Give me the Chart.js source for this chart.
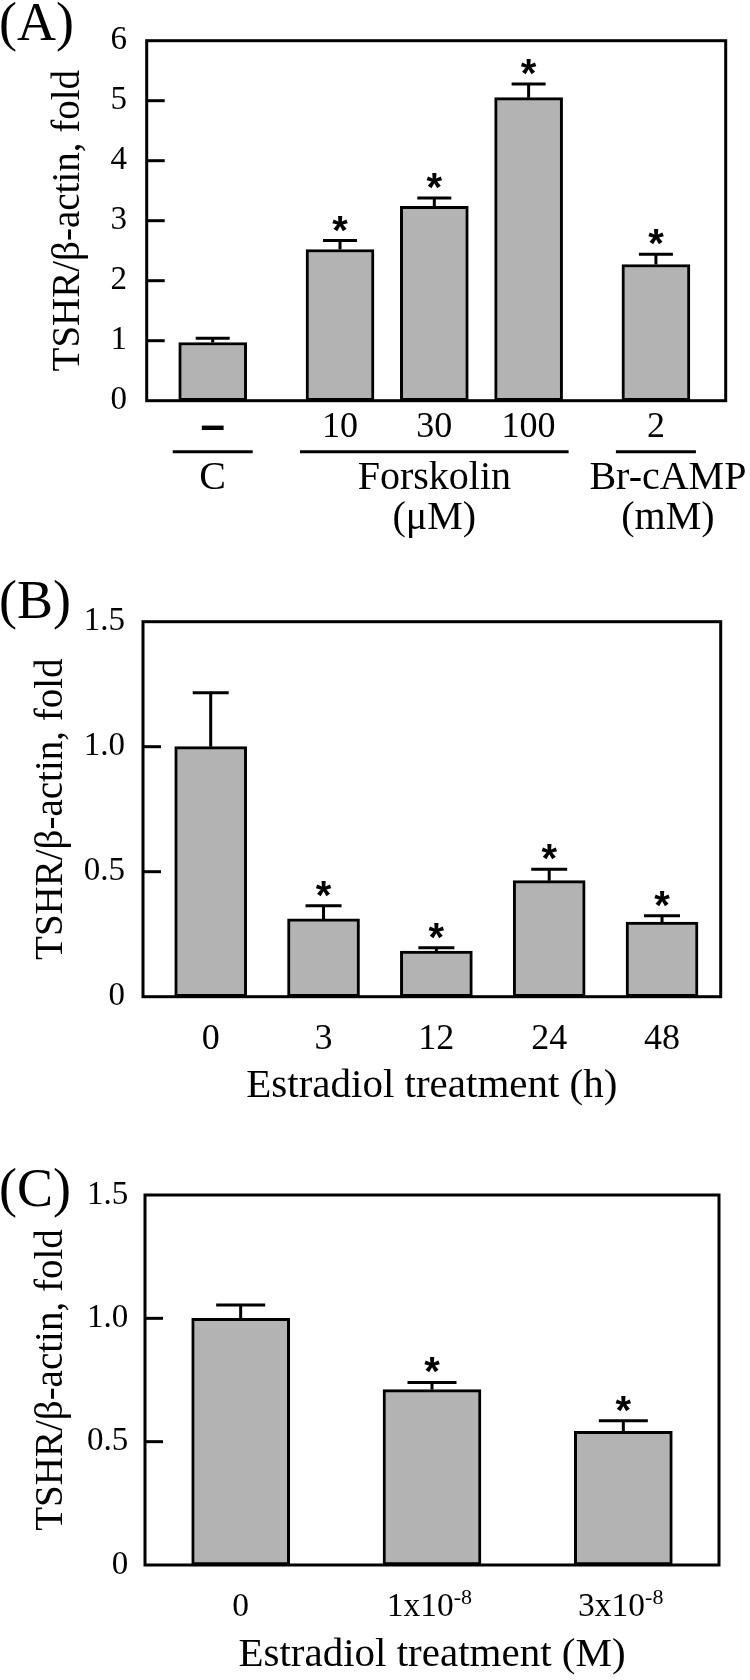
<!DOCTYPE html>
<html>
<head>
<meta charset="utf-8">
<script src="https://cdn.jsdelivr.net/npm/chart.js@4.4.0/dist/chart.umd.min.js"></script>
<style>
    html, body { margin: 0; padding: 0; background: #fff; }
    .painel { position: absolute; left: 0; width: 750px; height: 560px; }
</style>
</head>
<body>
<div class="painel" style="top:0"><canvas id="grafico-a" width="750" height="560"></canvas></div>
<div class="painel" style="top:560px"><canvas id="grafico-b" width="750" height="560"></canvas></div>
<div class="painel" style="top:1120px"><canvas id="grafico-c" width="750" height="560"></canvas></div>
<script>
// Painel A - forskolin / Br-cAMP
const rotulosA = ['–', '10', '30', '100', '2'];
const posicoesA = [0, 1.35, 2.35, 3.35, 4.7];
const mediasA = [0.97, 2.52, 3.24, 5.05, 2.27];
const errosA = [0.07, 0.15, 0.14, 0.23, 0.17];
const significativoA = [false, true, true, true, true];
const ticksYA = [0, 1, 2, 3, 4, 5, 6];
const gruposA = ['C', 'Forskolin', 'Br-cAMP'];
const unidadesA = ['', '(μM)', '(mM)'];
const inicioGrupoA = [0, 1, 4];
const fimGrupoA = [0, 3, 4];

// Painel B - estradiol, tempo
const rotulosB = ['0', '3', '12', '24', '48'];
const posicoesB = [0, 1, 2, 3, 4];
const mediasB = [1.0, 0.311, 0.182, 0.464, 0.298];
const errosB = [0.216, 0.053, 0.014, 0.046, 0.026];
const significativoB = [false, true, true, true, true];

// Painel C - estradiol, dose
const rotulosC = ['0', '1x10', '3x10'];
const expoentesC = ['', '-8', '-8'];
const posicoesC = [0, 1, 2];
const mediasC = [1.0, 0.711, 0.542];
const errosC = [0.054, 0.029, 0.043];
const significativoC = [false, true, true];

const ticksYBC = [0, 0.5, 1.0, 1.5];

const fonteSerif = '"Liberation Serif", "Times New Roman", serif';
const cores = { barra: '#b3b3b3', linha: '#000000' };
const ESPACO_EXPOENTE = '\u2002\u2009';

Chart.defaults.color = '#000';
Chart.defaults.font.family = fonteSerif;

function criarPainel(cfg) {
    const ctx = document.getElementById(cfg.id);
    if (!ctx) return;

    // moldura, ticks internos, barras de erro, asteriscos e textos extras
    const desenho = {
        id: 'desenho',
        afterDatasetsDraw(chart) {
            const { ctx: c, chartArea: a, scales: { x, y } } = chart;
            c.save();
            c.strokeStyle = cores.linha;
            c.fillStyle = cores.linha;
            c.lineWidth = 3;
            c.lineCap = 'butt';

            c.strokeRect(a.left, a.top, a.right - a.left, a.bottom - a.top);

            cfg.ticksY.forEach(v => {
                if (v === cfg.ticksY[0] || v === cfg.ticksY[cfg.ticksY.length - 1]) return;
                const py = y.getPixelForValue(v);
                c.beginPath();
                c.moveTo(a.left, py);
                c.lineTo(a.left + 18, py);
                c.stroke();
            });

            c.font = 'bold 40px "Liberation Sans", Arial, sans-serif';
            c.textAlign = 'center';
            c.textBaseline = 'alphabetic';
            const m = c.measureText('*');
            cfg.posicoes.forEach((pos, i) => {
                const px = x.getPixelForValue(pos);
                const pBarra = y.getPixelForValue(cfg.medias[i]);
                const pTopo = y.getPixelForValue(cfg.medias[i] + cfg.erros[i]);
                const meia = cfg.larguraBarra / 4;
                c.beginPath();
                c.moveTo(px, pBarra);
                c.lineTo(px, pTopo);
                c.moveTo(px - meia, pTopo);
                c.lineTo(px + meia, pTopo);
                c.stroke();
                if (cfg.significativo[i]) {
                    const centro = pTopo - 17;
                    const base = centro + (m.actualBoundingBoxAscent - m.actualBoundingBoxDescent) / 2;
                    c.fillText('*', px, base);
                }
            });

            // expoentes dos rotulos do eixo x (painel C)
            if (cfg.expoentes) {
                const yRotulo = a.bottom + cfg.padTickX + cfg.fonteTickX * 0.6;
                cfg.posicoes.forEach((pos, i) => {
                    if (!cfg.expoentes[i]) return;
                    c.font = cfg.fonteTickX + 'px ' + fonteSerif;
                    const larguraTotal = c.measureText(cfg.rotulos[i] + ESPACO_EXPOENTE).width;
                    const larguraBase = c.measureText(cfg.rotulos[i]).width;
                    const inicio = x.getPixelForValue(pos) - larguraTotal / 2 + larguraBase;
                    c.font = '22px ' + fonteSerif;
                    c.textAlign = 'left';
                    c.textBaseline = 'middle';
                    c.fillText(cfg.expoentes[i], inicio, yRotulo - 9);
                });
            }

            // letra do painel
            c.font = '54px ' + fonteSerif;
            c.textAlign = 'left';
            c.textBaseline = 'alphabetic';
            c.fillText(cfg.letra, -1, cfg.baseLetra);

            // grupos sob o eixo (painel A)
            if (cfg.grupos) {
                c.font = '40px ' + fonteSerif;
                c.textAlign = 'center';
                c.textBaseline = 'middle';
                cfg.grupos.forEach((nome, g) => {
                    const x1 = x.getPixelForValue(cfg.posicoes[cfg.inicioGrupo[g]]) - 40;
                    const x2 = x.getPixelForValue(cfg.posicoes[cfg.fimGrupo[g]]) + 40;
                    const yLinha = a.bottom + 51;
                    c.beginPath();
                    c.moveTo(x1, yLinha);
                    c.lineTo(x2, yLinha);
                    c.stroke();
                    const centro = (x1 + x2) / 2 + (g === 2 ? 12 : 0);
                    c.fillText(nome, centro, a.bottom + 78);
                    if (cfg.unidades[g]) c.fillText(cfg.unidades[g], centro, a.bottom + 118);
                });
            }
            c.restore();
        }
    };

    return new Chart(ctx, {
        type: 'bar',
        data: {
            datasets: [{
                data: cfg.posicoes.map((p, i) => ({ x: p, y: cfg.medias[i] })),
                backgroundColor: cores.barra,
                borderColor: cores.linha,
                borderWidth: 3,
                borderSkipped: false,
                barThickness: cfg.larguraBarra
            }]
        },
        options: {
            responsive: false,
            animation: false,
            events: [],
            layout: {
                autoPadding: false,
                padding: { top: cfg.area.top, right: 750 - cfg.area.right, bottom: 0, left: 0 }
            },
            plugins: {
                legend: { display: false },
                tooltip: { enabled: false }
            },
            scales: {
                x: {
                    type: 'linear',
                    offset: false,
                    bounds: 'data',
                    min: cfg.xMin,
                    max: cfg.xMax,
                    grid: { display: false, drawTicks: false },
                    border: { display: false },
                    afterFit: (s) => { s.height = 560 - cfg.area.bottom; },
                    afterBuildTicks: (s) => { s.ticks = cfg.posicoes.map(v => ({ value: v })); },
                    ticks: {
                        autoSkip: false,
                        maxRotation: 0,
                        minRotation: 0,
                        padding: cfg.padTickX,
                        color: '#000',
                        font: (context) => {
                            if (context.tick && context.tick.label === '–') {
                                return { family: '"Liberation Sans", Arial, sans-serif', size: 44, weight: 'bold', lineHeight: 1.0 };
                            }
                            return { family: fonteSerif, size: cfg.fonteTickX };
                        },
                        callback: (valor, indice) => {
                            const rotulo = cfg.rotulos[indice];
                            return cfg.expoentes && cfg.expoentes[indice] ? rotulo + ESPACO_EXPOENTE : rotulo;
                        }
                    },
                    title: cfg.tituloX ? {
                        display: true,
                        text: cfg.tituloX,
                        color: '#000',
                        font: { family: fonteSerif, size: 41 },
                        padding: { top: 0, bottom: cfg.padTituloX }
                    } : { display: false }
                },
                y: {
                    type: 'linear',
                    bounds: 'data',
                    min: 0,
                    max: cfg.yMax,
                    grid: { display: false, drawTicks: false },
                    border: { display: false },
                    afterFit: (s) => { s.width = cfg.area.left; },
                    afterBuildTicks: (s) => { s.ticks = cfg.ticksY.map(v => ({ value: v })); },
                    ticks: {
                        padding: cfg.padTickY,
                        color: '#000',
                        font: { family: fonteSerif, size: 33 },
                        callback: cfg.formatoY
                    },
                    title: {
                        display: true,
                        text: 'TSHR/β-actin, fold',
                        color: '#000',
                        font: { family: fonteSerif, size: 39 },
                        padding: { top: cfg.padTituloY, bottom: 0 }
                    }
                }
            }
        },
        plugins: [desenho]
    });
}

criarPainel({
    id: 'grafico-a', letra: '(A)', baseLetra: 40,
    rotulos: rotulosA, posicoes: posicoesA, medias: mediasA, erros: errosA, significativo: significativoA,
    grupos: gruposA, unidades: unidadesA, inicioGrupo: inicioGrupoA, fimGrupo: fimGrupoA,
    area: { top: 40.7, bottom: 400.7, left: 146.7, right: 725.7 },
    xMin: -0.70, xMax: 5.44, yMax: 6, ticksY: ticksYA,
    formatoY: (v) => String(v),
    larguraBarra: 68, fonteTickX: 36, padTickX: 5.2, padTickY: 19.7, padTituloY: 45
});

criarPainel({
    id: 'grafico-b', letra: '(B)', baseLetra: 58.3,
    rotulos: rotulosB, posicoes: posicoesB, medias: mediasB, erros: errosB, significativo: significativoB,
    area: { top: 61.7, bottom: 436.7, left: 143, right: 720.7 },
    xMin: -0.6, xMax: 4.52, yMax: 1.5, ticksY: ticksYBC,
    formatoY: (v) => v === 0 ? '0' : v.toFixed(1),
    larguraBarra: 72, fonteTickX: 36, padTickX: 21.7, padTickY: 18, padTituloY: 28.6,
    tituloX: 'Estradiol treatment (h)', padTituloX: 9.2
});

criarPainel({
    id: 'grafico-c', letra: '(C)', baseLetra: 86,
    rotulos: rotulosC, expoentes: expoentesC, posicoes: posicoesC, medias: mediasC, erros: errosC, significativo: significativoC,
    area: { top: 75, bottom: 445, left: 145, right: 719 },
    xMin: -0.5, xMax: 2.5, yMax: 1.5, ticksY: ticksYBC,
    formatoY: (v) => v === 0 ? '0' : v.toFixed(1),
    larguraBarra: 98, fonteTickX: 33.5, padTickX: 22.6, padTickY: 16.7, padTituloY: 28.6,
    tituloX: 'Estradiol treatment (M)', padTituloX: 0
});
</script>
</body>
</html>
